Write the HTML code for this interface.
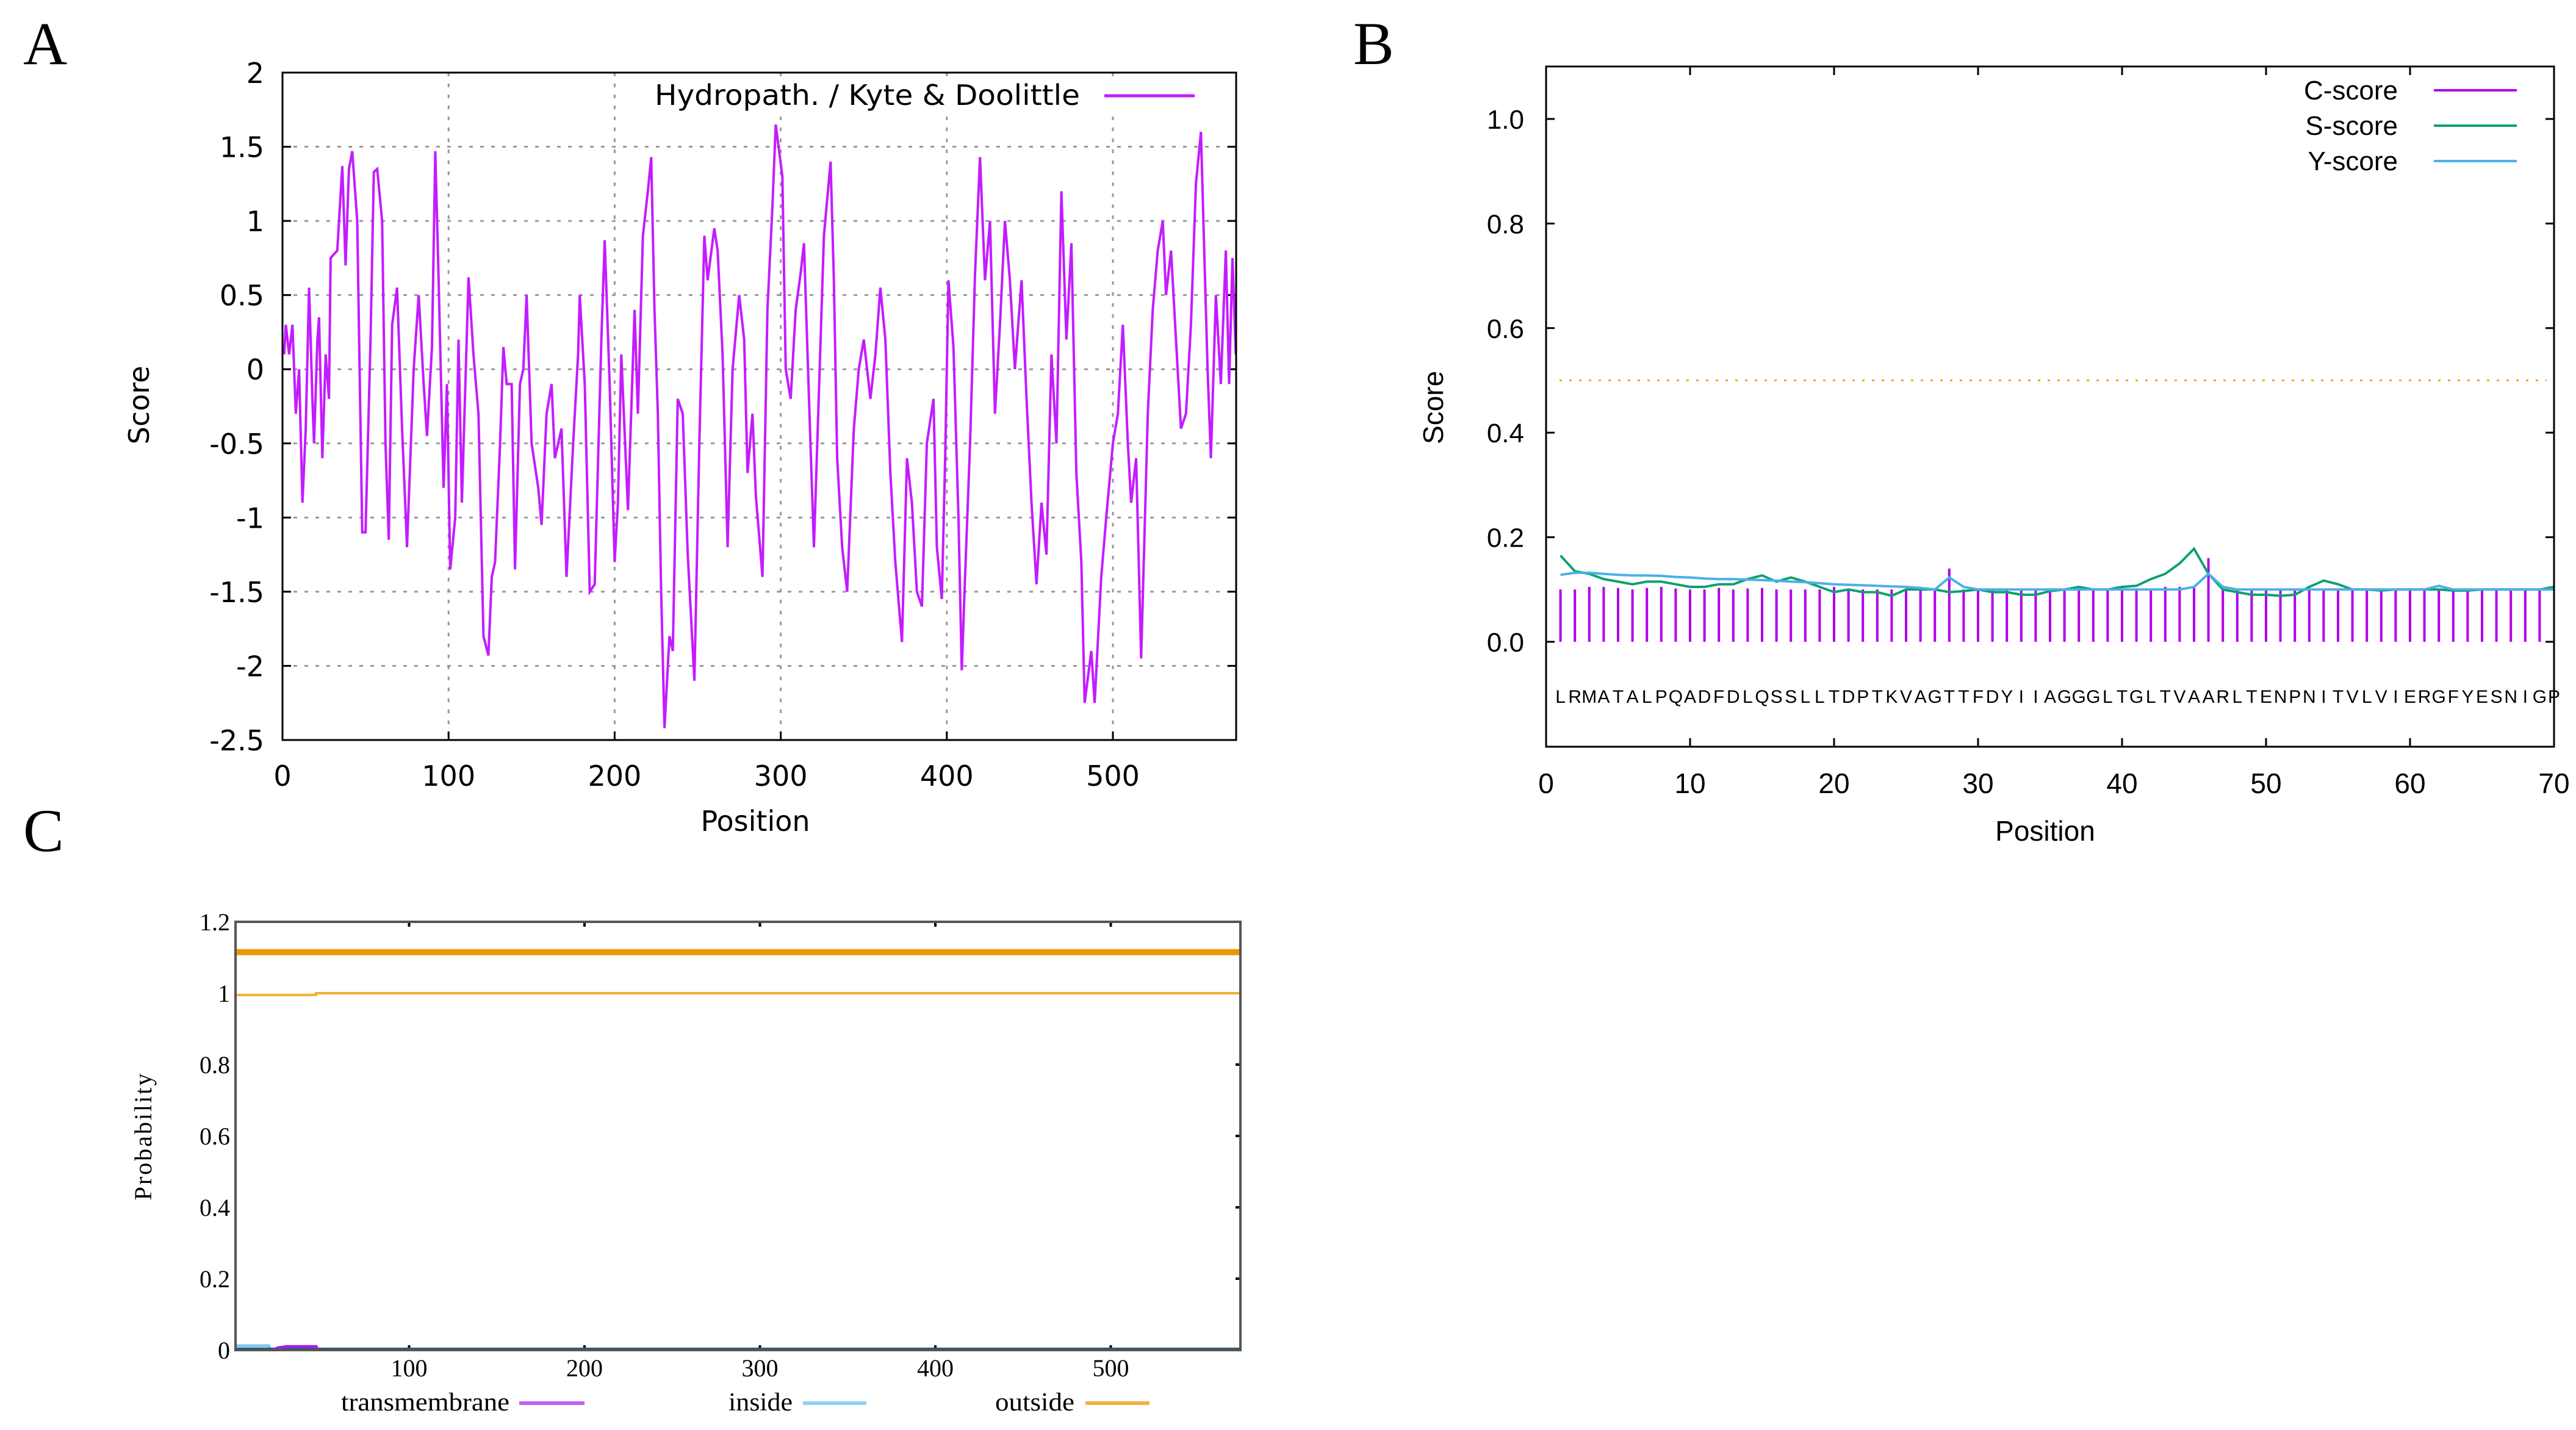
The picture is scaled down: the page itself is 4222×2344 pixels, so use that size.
<!DOCTYPE html>
<html><head><meta charset="utf-8"><style>html,body{margin:0;padding:0;background:#fff}svg{display:block}</style></head>
<body>
<svg id="fig" xmlns="http://www.w3.org/2000/svg" width="4222" height="2344" viewBox="0 0 4222 2344">
<rect width="4222" height="2344" fill="#fff"/>
<text x="38" y="105" font-family="Liberation Serif, serif" font-size="100">A</text>
<text x="2218" y="105" font-family="Liberation Serif, serif" font-size="100">B</text>
<text x="38" y="1395" font-family="Liberation Serif, serif" font-size="100">C</text>
<g id="pa"></g>
<g id="pb"></g>
<g id="pc"></g>
</svg>
<script>
// ---------- Panel A data ----------
const hydroPos = [1,2,4,6,8,10,12,14,16,18,19,21,22,24,26,28,29,33,36,38,40,42,45,46,48,50,53,55,57,60,62,64,66,69,72,75,79,82,85,87,90,92,94,97,99,101,104,106,108,112,115,118,121,124,126,128,131,133,135,138,140,143,145,147,150,154,156,159,162,164,168,171,175,178,179,182,185,188,192,194,197,200,202,204,208,212,214,217,220,222,224,226,228,230,233,235,238,241,244,248,251,254,256,260,262,265,268,271,275,278,280,283,285,289,292,295,297,301,303,306,309,312,314,317,320,322,326,330,332,334,337,340,344,347,350,354,357,360,363,366,369,373,376,379,382,385,388,392,394,397,399,401,404,407,409,411,414,417,420,423,426,429,432,435,438,441,445,448,451,454,457,460,463,466,469,472,475,478,481,483,487,489,493,496,500,503,506,509,511,514,517,521,524,527,530,532,535,538,541,544,547,550,553,555,557,559,562,565,568,570,572,574];
const hydroVal = [0.1,0.3,0.1,0.3,-0.3,0.0,-0.9,-0.4,0.55,-0.2,-0.5,0.2,0.35,-0.6,0.1,-0.2,0.75,0.8,1.37,0.7,1.35,1.47,1.0,0.3,-1.1,-1.1,0.2,1.33,1.35,1.0,-0.5,-1.15,0.3,0.55,-0.4,-1.2,0.0,0.5,-0.1,-0.45,0.15,1.47,0.6,-0.8,-0.1,-1.35,-1.0,0.2,-0.9,0.62,0.1,-0.3,-1.8,-1.93,-1.4,-1.3,-0.5,0.15,-0.1,-0.1,-1.35,-0.1,0.0,0.5,-0.5,-0.8,-1.05,-0.3,-0.1,-0.6,-0.4,-1.4,-0.5,0.1,0.5,-0.1,-1.5,-1.45,0.2,0.87,-0.1,-1.3,-0.9,0.1,-0.95,0.4,-0.3,0.9,1.2,1.43,0.4,-0.3,-1.5,-2.42,-1.8,-1.9,-0.2,-0.3,-1.25,-2.1,-0.5,0.9,0.6,0.95,0.8,0.1,-1.2,0.0,0.5,0.2,-0.7,-0.3,-0.85,-1.4,0.4,1.1,1.65,1.3,0.0,-0.2,0.4,0.65,0.85,-0.2,-1.2,-0.5,0.9,1.4,0.6,-0.6,-1.2,-1.5,-0.4,0.0,0.2,-0.2,0.1,0.55,0.2,-0.7,-1.3,-1.84,-0.6,-0.9,-1.5,-1.6,-0.5,-0.2,-1.2,-1.55,-0.6,0.6,0.15,-1.0,-2.03,-1.4,-0.5,0.65,1.43,0.6,1.0,-0.3,0.3,1.0,0.6,0.0,0.6,-0.2,-0.9,-1.45,-0.9,-1.25,0.1,-0.5,1.2,0.2,0.85,-0.7,-1.3,-2.25,-1.9,-2.25,-1.4,-1.0,-0.5,-0.3,0.3,-0.5,-0.9,-0.6,-1.95,-0.3,0.4,0.8,1.0,0.5,0.8,0.2,-0.4,-0.3,0.3,1.25,1.6,0.8,0.0,-0.6,0.5,-0.1,0.8,-0.1,0.75,0.1];
const aXTicks = [0,100,200,300,400,500];
const aYTicks = [2,1.5,1,0.5,0,-0.5,-1,-1.5,-2,-2.5];
const aYLabels = ["2","1.5","1","0.5","0","-0.5","-1","-1.5","-2","-2.5"];

// ---------- Panel B data ----------
const seqLetters = "LRMATALPQADFDLQSSLLTDPTKVAGTTFDYIIAGGGLTGLTVAARLTENPNITVLVIERGFYESNIGP".split("");
const cScore = [0.1,0.1,0.105,0.105,0.103,0.1,0.103,0.105,0.102,0.1,0.1,0.103,0.1,0.102,0.103,0.1,0.1,0.1,0.1,0.105,0.1,0.1,0.1,0.1,0.1,0.1,0.1,0.14,0.1,0.1,0.1,0.1,0.1,0.1,0.1,0.1,0.1,0.1,0.1,0.1,0.1,0.1,0.105,0.105,0.105,0.16,0.1,0.1,0.1,0.1,0.1,0.1,0.1,0.1,0.1,0.1,0.1,0.1,0.1,0.1,0.1,0.1,0.1,0.1,0.1,0.1,0.1,0.1,0.1];
const sScore = [0.165,0.135,0.13,0.12,0.115,0.11,0.115,0.115,0.11,0.105,0.105,0.11,0.11,0.12,0.127,0.115,0.123,0.115,0.105,0.095,0.1,0.095,0.095,0.088,0.1,0.1,0.1,0.095,0.097,0.1,0.095,0.095,0.09,0.09,0.097,0.1,0.105,0.1,0.1,0.105,0.107,0.12,0.13,0.15,0.178,0.13,0.1,0.095,0.09,0.09,0.088,0.09,0.105,0.117,0.11,0.1,0.1,0.098,0.1,0.1,0.1,0.1,0.098,0.098,0.1,0.1,0.1,0.1,0.1,0.105];
const yScore = [0.128,0.132,0.132,0.13,0.128,0.127,0.127,0.126,0.124,0.123,0.121,0.12,0.12,0.119,0.118,0.117,0.115,0.114,0.112,0.11,0.109,0.108,0.107,0.106,0.105,0.103,0.1,0.123,0.105,0.1,0.1,0.1,0.1,0.1,0.1,0.1,0.1,0.1,0.1,0.1,0.1,0.1,0.1,0.1,0.105,0.13,0.105,0.1,0.1,0.1,0.1,0.1,0.1,0.1,0.1,0.1,0.1,0.1,0.1,0.1,0.1,0.107,0.1,0.1,0.1,0.1,0.1,0.1,0.1,0.1];
const bXTicks = [0,10,20,30,40,50,60,70];
const bYTicks = [0,0.2,0.4,0.6,0.8,1.0];
const bYLabels = ["0.0","0.2","0.4","0.6","0.8","1.0"];
const bCutoff = [0.5];

// ---------- Panel C data ----------
const cXTicks = [100,200,300,400,500];
const cYTicks = [0,0.2,0.4,0.6,0.8,1,1.2];
const cYLabels = ["0","0.2","0.4","0.6","0.8","1","1.2"];
const outsidePos = [1,47,47,574];
const outsideVal = [0.995,0.995,1.0,1.0];
const outsideBand = [1.115];
const insidePos = [1,20,21,574];
const insideVal = [0.012,0.012,0.002,0.002];
const tmPos = [22,25,30,47,48];
const tmVal = [0.0,0.006,0.01,0.01,0.0];

const NS = "http://www.w3.org/2000/svg";
function mk(parent, tag, attrs, text){
  const e = document.createElementNS(NS, tag);
  for (const k in attrs) e.setAttribute(k, attrs[k]);
  if (text !== undefined) e.textContent = text;
  parent.appendChild(e);
  return e;
}

// ===== Panel A =====
(function(){
  const g = document.getElementById('pa');
  const L=463,R=2026,T=119,B=1213;
  const xs = p => 463 + p*(1824-463)/500;
  const ys = v => 119 + (2-v)*(1213-119)/4.5;
  aYTicks.forEach((t,i)=>{
    const y = ys(t);
    if (i>0 && i<aYTicks.length-1){
      const gl = mk(g,'line',{x1:L,x2:R,y1:y,y2:y,stroke:'#999','stroke-width':3,'stroke-dasharray':'6 12'});
      
      
    }
    const tk = mk(g,'line',{x1:L,x2:L+14,y1:y,y2:y,stroke:'#000','stroke-width':3});
     
    const tk2 = mk(g,'line',{x1:R-14,x2:R,y1:y,y2:y,stroke:'#000','stroke-width':3});
     
    const lb = mk(g,'text',{x:L-30,y:y+17,'text-anchor':'end','font-family':'DejaVu Sans, sans-serif','font-size':46},aYLabels[i]);
     
  });
  aXTicks.forEach(t=>{
    const x = xs(t);
    if (t>0){
      const gl = mk(g,'line',{x1:x,x2:x,y1:T,y2:B,stroke:'#999','stroke-width':3,'stroke-dasharray':'6 12'});
       
    }
    const tk = mk(g,'line',{x1:x,x2:x,y1:B-14,y2:B,stroke:'#000','stroke-width':3});
     
    const lb = mk(g,'text',{x:x,y:1288,'text-anchor':'middle','font-family':'DejaVu Sans, sans-serif','font-size':46},String(t));
     
  });
  const lgbg = mk(g,'rect',{x:1055,y:126,width:965,height:62,fill:'#fff'});
   
  const pts = hydroPos.map((p,i)=>xs(p).toFixed(1)+','+ys(hydroVal[i]).toFixed(1)).join(' ');
  const ln = mk(g,'polyline',{points:pts,fill:'none',stroke:'#c31cff','stroke-width':4,'stroke-linejoin':'miter'});
   
  const fr = mk(g,'rect',{x:L,y:T,width:R-L,height:B-T,fill:'none',stroke:'#000','stroke-width':3});
   
  const lt = mk(g,'text',{x:1770,y:172,'text-anchor':'end','font-family':'DejaVu Sans, sans-serif','font-size':46,textLength:697,lengthAdjust:'spacingAndGlyphs'},'Hydropath. / Kyte & Doolittle');
   
  const ll = mk(g,'line',{x1:1810,x2:1958,y1:157,y2:157,stroke:'#c31cff','stroke-width':5});
   
  const xt = mk(g,'text',{x:1238,y:1362,'text-anchor':'middle','font-family':'DejaVu Sans, sans-serif','font-size':46},'Position');
   
  const yt = mk(g,'text',{x:0,y:0,'text-anchor':'middle','font-family':'DejaVu Sans, sans-serif','font-size':46,transform:'translate(244,664) rotate(-90)'},'Score');
   
})();

// ===== Panel B =====
(function(){
  const g = document.getElementById('pb');
  const L=2534,R=4186,T=109,B=1224;
  const xs = p => L + p*(R-L)/70;
  const ys = v => 1052 - v*(1052-195)/1.0;
  bYTicks.forEach((t,i)=>{
    const y = ys(t);
    const tk = mk(g,'line',{x1:L,x2:L+14,y1:y,y2:y,stroke:'#000','stroke-width':3});
     
    const tk2 = mk(g,'line',{x1:R-14,x2:R,y1:y,y2:y,stroke:'#000','stroke-width':3});
     
    const lb = mk(g,'text',{x:2498,y:y+16,'text-anchor':'end','font-family':'Liberation Sans, sans-serif','font-size':44},bYLabels[i]);
     
  });
  bXTicks.forEach(t=>{
    const x = xs(t);
    const tk = mk(g,'line',{x1:x,x2:x,y1:B-14,y2:B,stroke:'#000','stroke-width':3});
     
    const tk2 = mk(g,'line',{x1:x,x2:x,y1:T,y2:T+14,stroke:'#000','stroke-width':3});
     
    const lb = mk(g,'text',{x:x,y:1300,'text-anchor':'middle','font-family':'Liberation Sans, sans-serif','font-size':46},String(t));
     
  });
  bCutoff.forEach(c=>{
    const cl = mk(g,'line',{x1:L+22,x2:R-12,y1:ys(c),y2:ys(c),stroke:'#f5a623','stroke-width':3,'stroke-dasharray':'4 12'});
     
  });
  cScore.forEach((v,i)=>{
    const x = xs(i+1);
    const st = mk(g,'line',{x1:x,x2:x,y1:ys(0),y2:ys(v),stroke:'#b000e8','stroke-width':4});
     
  });
  const sp = sScore.map((v,i)=>xs(i+1).toFixed(1)+','+ys(v).toFixed(1)).join(' ');
  const sl = mk(g,'polyline',{points:sp,fill:'none',stroke:'#10a070','stroke-width':4});
   
  const yp = yScore.map((v,i)=>xs(i+1).toFixed(1)+','+ys(v).toFixed(1)).join(' ');
  const yl = mk(g,'polyline',{points:yp,fill:'none',stroke:'#4ab0e8','stroke-width':4});
   
  seqLetters.forEach((c,i)=>{
    const t = mk(g,'text',{x:xs(i+1),y:1152,'text-anchor':'middle','font-family':'Liberation Sans, sans-serif','font-size':30},c);
     
  });
  const fr = mk(g,'rect',{x:L,y:T,width:R-L,height:B-T,fill:'none',stroke:'#000','stroke-width':3});
   
  const names=['C-score','S-score','Y-score'], cols=['#b000e8','#10a070','#4ab0e8'], ly=[148,206,264];
  names.forEach((n,i)=>{
    const t = mk(g,'text',{x:3930,y:ly[i]+15,'text-anchor':'end','font-family':'Liberation Sans, sans-serif','font-size':44},n);
     
    const l = mk(g,'line',{x1:3989,x2:4125,y1:ly[i],y2:ly[i],stroke:cols[i],'stroke-width':4});
     
  });
  const xt = mk(g,'text',{x:3352,y:1378,'text-anchor':'middle','font-family':'Liberation Sans, sans-serif','font-size':46},'Position');
   
  const yt = mk(g,'text',{x:0,y:0,'text-anchor':'middle','font-family':'Liberation Sans, sans-serif','font-size':46,transform:'translate(2365,668) rotate(-90)'},'Score');
   
})();

// ===== Panel C =====
(function(){
  const g = document.getElementById('pc');
  const L=386,R=2033,T=1511,B=2213;
  const xs = p => 383 + p*2.875;
  const ys = v => B - v*(B-T)/1.2;
  cYTicks.forEach((t,i)=>{
    const y = ys(t);
    const tk = mk(g,'line',{x1:R-8,x2:R,y1:y,y2:y,stroke:'#000','stroke-width':4});
     
    const lb = mk(g,'text',{x:377,y:y+14,'text-anchor':'end','font-family':'Liberation Serif, serif','font-size':40},cYLabels[i]);
     
  });
  cXTicks.forEach(t=>{
    const x = xs(t);
    const tk = mk(g,'line',{x1:x,x2:x,y1:B-8,y2:B,stroke:'#000','stroke-width':4});
     
    const tk2 = mk(g,'line',{x1:x,x2:x,y1:T,y2:T+8,stroke:'#000','stroke-width':4});
     
    const lb = mk(g,'text',{x:x,y:2256,'text-anchor':'middle','font-family':'Liberation Serif, serif','font-size':40},String(t));
     
  });
  outsideBand.forEach(v=>{
    const b = mk(g,'line',{x1:L,x2:R,y1:ys(v),y2:ys(v),stroke:'#e89a00','stroke-width':10});
     
  });
  const op = outsidePos.map((p,i)=>xs(p).toFixed(1)+','+ys(outsideVal[i]).toFixed(1)).join(' ');
  const ol = mk(g,'polyline',{points:op,fill:'none',stroke:'#f2b030','stroke-width':4});
   
  const ip = insidePos.map((p,i)=>xs(p).toFixed(1)+','+ys(insideVal[i]).toFixed(1)).join(' ');
  const il = mk(g,'polyline',{points:ip,fill:'none',stroke:'#7cc8f0','stroke-width':5});
   
  const zl = mk(g,'line',{x1:L,x2:R,y1:B-2,y2:B-2,stroke:'#1d5b78','stroke-width':4});
   
  const tp = tmPos.map((p,i)=>xs(p).toFixed(1)+','+ys(tmVal[i]).toFixed(1)).join(' ');
  const tl = mk(g,'polyline',{points:tp,fill:'none',stroke:'#a020e0','stroke-width':5});
   
  const fr = mk(g,'rect',{x:L,y:T,width:R-L,height:B-T,fill:'none',stroke:'#555','stroke-width':4});
   
  const lg = [['transmembrane',559,276,851,958,'#c060f0'],['inside',1194,105,1316,1420,'#90d0f5'],['outside',1631,130,1779,1884,'#f2b040']];
  lg.forEach(e=>{
    const t = mk(g,'text',{x:e[1],y:2312,'font-family':'Liberation Serif, serif','font-size':42,textLength:e[2],lengthAdjust:'spacingAndGlyphs'},e[0]);
     
    const l = mk(g,'line',{x1:e[3],x2:e[4],y1:2300,y2:2300,stroke:e[5],'stroke-width':6});
     
  });
  const yt = mk(g,'text',{x:0,y:0,'text-anchor':'middle','font-family':'Liberation Serif, serif','font-size':40,'letter-spacing':3,transform:'translate(248,1862) rotate(-90)'},'Probability');
   
})();
</script>
</body></html>
